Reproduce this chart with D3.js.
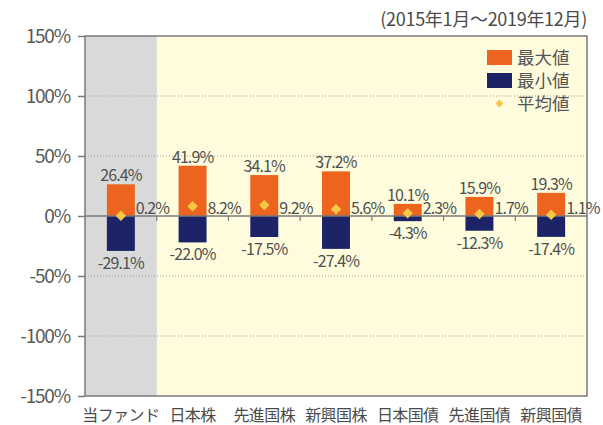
<!DOCTYPE html>
<html><head><meta charset="utf-8">
<script src="https://cdn.jsdelivr.net/npm/d3@7"></script>
<style>body{margin:0;background:#fff}svg{display:block}text{font-family:"Noto Sans CJK JP","Noto Sans",sans-serif}</style>
</head><body>
<svg id="c" width="603" height="425"></svg>
<script>
const categories = ["当ファンド","日本株","先進国株","新興国株","日本国債","先進国債","新興国債"];
const maxValues = [26.4, 41.9, 34.1, 37.2, 10.1, 15.9, 19.3];
const minValues = [-29.1, -22.0, -17.5, -27.4, -4.3, -12.3, -17.4];
const avgValues = [0.2, 8.2, 9.2, 5.6, 2.3, 1.7, 1.1];
const yTicks = [150, 100, 50, 0, -50, -100, -150];
const legendLabels = ["最大値","最小値","平均値"];
const periodLabel = "(2015年1月～2019年12月)";

const W = 603, H = 425;
const m = {left:85, right:16, top:36, bottom:29};
const svg = d3.select("#c");
const x = d3.scaleBand().domain(categories).range([m.left, W-m.right]).paddingInner(0).paddingOuter(0);
const y = d3.scaleLinear().domain([-150,150]).range([H-m.bottom, m.top]);
const bw = x.bandwidth()*0.39;
const C = {orange:"#EC641E", navy:"#1C2467", gold:"#F6C646", yellow:"#FEFCDD", gray:"#D9D9D9", text:"#505050", axis:"#7a7a7a"};

// backgrounds
svg.append("rect").attr("x",m.left).attr("y",m.top).attr("width",W-m.right-m.left).attr("height",y(-150)-y(150)).attr("fill",C.yellow);
svg.append("rect").attr("x",x(categories[0])).attr("y",m.top).attr("width",x.bandwidth()).attr("height",y(-150)-y(150)).attr("fill",C.gray);

// gridlines
svg.append("g").selectAll("line").data(yTicks.filter(d=>d!==0 && Math.abs(d)!==150)).join("line")
  .attr("x1",m.left).attr("x2",W-m.right).attr("y1",d=>y(d)).attr("y2",d=>y(d))
  .attr("stroke","#9a9a9a").attr("stroke-width",1).attr("stroke-dasharray","1,2");

// y axis
const ya = svg.append("g").attr("transform",`translate(${m.left},0)`)
  .call(d3.axisLeft(y).tickValues(yTicks).tickFormat(d=>d+"%").tickSize(7).tickPadding(8));
ya.select(".domain").remove();
ya.selectAll("line").attr("stroke",C.axis).attr("stroke-width",1.5);
ya.selectAll("text").attr("fill","#5a5a5a").attr("font-size",19).attr("letter-spacing",-1.2).attr("font-family","'Noto Sans',sans-serif");

// bars
svg.append("g").selectAll("rect").data(categories).join("rect")
  .attr("x",(d)=>x(d)+x.bandwidth()/2-bw/2).attr("width",bw)
  .attr("y",(d,i)=>y(maxValues[i])).attr("height",(d,i)=>y(0)-y(maxValues[i])).attr("fill",C.orange);
svg.append("g").selectAll("rect").data(categories).join("rect")
  .attr("x",(d)=>x(d)+x.bandwidth()/2-bw/2).attr("width",bw)
  .attr("y",y(0)).attr("height",(d,i)=>y(minValues[i])-y(0)).attr("fill",C.navy);

// zero line and border
svg.append("line").attr("x1",m.left).attr("x2",W-m.right).attr("y1",y(0)).attr("y2",y(0)).attr("stroke",C.axis).attr("stroke-width",1.5);
svg.append("g").selectAll("line").data(categories.slice(1)).join("line")
  .attr("x1",d=>x(d)).attr("x2",d=>x(d)).attr("y1",y(0)).attr("y2",y(0)+5).attr("stroke",C.axis).attr("stroke-width",1.2);
svg.append("rect").attr("x",m.left).attr("y",m.top).attr("width",W-m.right-m.left).attr("height",y(-150)-y(150))
  .attr("fill","none").attr("stroke",C.axis).attr("stroke-width",1.5);

// diamonds
const dsym = d3.symbol().type(d3.symbolDiamond2).size(70);
svg.append("g").selectAll("path").data(categories).join("path")
  .attr("d",dsym).attr("transform",(d,i)=>`translate(${x(d)+x.bandwidth()/2},${y(avgValues[i])})`).attr("fill",C.gold);

// data labels
const lab = svg.append("g").attr("fill",C.text).attr("font-size",16).attr("letter-spacing",-0.9).attr("font-family","'Noto Sans',sans-serif");
lab.selectAll(".mx").data(categories).join("text").attr("text-anchor","middle")
  .attr("x",d=>x(d)+x.bandwidth()/2).attr("y",(d,i)=>y(maxValues[i])-3).text((d,i)=>maxValues[i].toFixed(1)+"%");
lab.selectAll(".mn").data(categories).join("text").attr("text-anchor","middle")
  .attr("x",d=>x(d)+x.bandwidth()/2).attr("y",(d,i)=>y(minValues[i])+18).text((d,i)=>minValues[i].toFixed(1)+"%");
lab.selectAll(".av").data(categories).join("text").attr("text-anchor","start")
  .attr("x",d=>x(d)+x.bandwidth()/2+bw/2+1).attr("y",y(0)-2).text((d,i)=>avgValues[i].toFixed(1)+"%");

// x labels
svg.append("g").selectAll("text").data(categories).join("text")
  .attr("x",d=>x(d)+x.bandwidth()/2).attr("y",H-4).attr("text-anchor","middle")
  .attr("font-size",16).attr("letter-spacing",-0.6).attr("fill","#4a4a4a").text(d=>d);

// title
svg.append("text").attr("x",W-m.right).attr("y",26).attr("text-anchor","end").attr("font-size",18).attr("letter-spacing",-0.3).attr("fill","#4a4a4a").text(periodLabel);

// legend
const lg = svg.append("g");
const lx = 487, ly = 50, step = 23;
lg.append("rect").attr("x",lx).attr("y",ly).attr("width",25).attr("height",15).attr("fill",C.orange);
lg.append("rect").attr("x",lx).attr("y",ly+step).attr("width",25).attr("height",15).attr("fill",C.navy);
lg.append("path").attr("d",d3.symbol().type(d3.symbolDiamond2).size(40)).attr("transform",`translate(${lx+12.5},${ly+2*step+7.5})`).attr("fill",C.gold);
lg.selectAll("text").data(legendLabels).join("text").attr("x",lx+30).attr("y",(d,i)=>ly+i*step+14)
  .attr("font-size",17.5).attr("fill","#555").text(d=>d);
</script>
</body></html>
